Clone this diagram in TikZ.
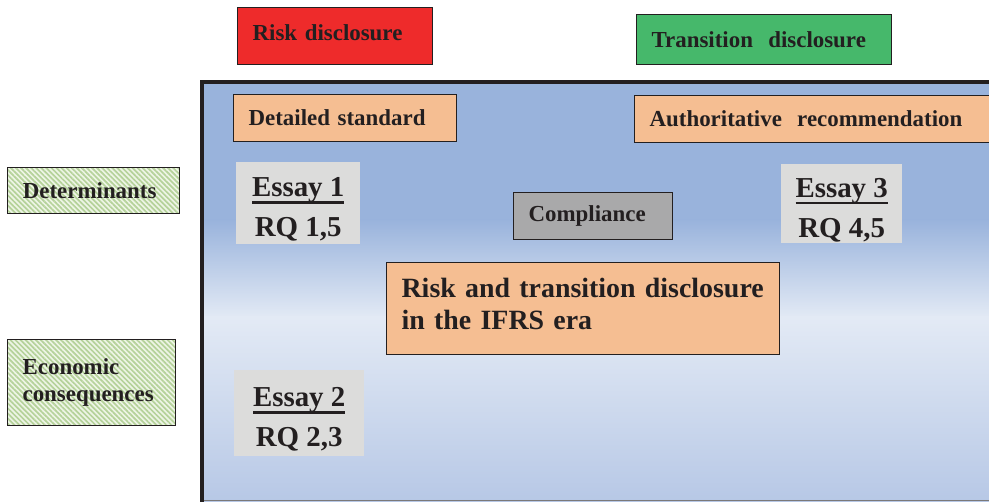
\documentclass[tikz,border=0pt]{standalone}
\usepackage{fontspec}
\setmainfont{Liberation Serif}
\usetikzlibrary{patterns.meta}
\definecolor{mRed}{HTML}{EE2B2B}
\definecolor{mGreen}{HTML}{46B86B}
\definecolor{mOrange}{HTML}{F5BE92}
\definecolor{mGray}{HTML}{A9A9AA}
\definecolor{mEssay}{HTML}{DCDCDB}
\definecolor{mBlue}{HTML}{99B3DC}
\definecolor{mPale}{HTML}{E3EAF5}
\definecolor{mBlueLow}{HTML}{B7C8E6}
\definecolor{mHatchBg}{HTML}{EEF5E6}
\definecolor{mHatch}{HTML}{B5D29A}
\definecolor{mLine}{HTML}{231F20}

% heading of an essay box, with a heavy underline
\newcommand{\essayhead}[1]{\rule{0pt}{32pt}\sbox0{#1}\rlap{\usebox0}\rule[-7pt]{\wd0}{2.8pt}}

\begin{document}
\begin{tikzpicture}[x=1bp, y=-1bp,
  every node/.style={font=\fontsize{23}{27}\selectfont\bfseries, text=mLine},
  lbl/.style={draw=mLine, line width=1.2bp, anchor=north west,
              inner xsep=15bp, inner ysep=0pt, align=left},
  hatch/.style={lbl, preaction={fill=mHatchBg},
                pattern={Lines[angle=-45, distance=3.6pt, line width=1.7pt]},
                pattern color=mHatch},
  essay/.style={fill=mEssay, anchor=north west, align=center, inner sep=0pt,
                font=\fontsize{29}{40}\selectfont\bfseries},
]
  \useasboundingbox (0,0) rectangle (989,502);
  \clip (0,0) rectangle (989,502);

  % Panel background
  \fill[mBlue] (200,81) rectangle (1000,221);
  \shade[top color=mBlue, bottom color=mPale] (200,220) rectangle (1000,318);
  \shade[top color=mPale, bottom color=mBlueLow] (200,317) rectangle (1000,501);
  \draw[mLine!60, line width=1.5bp] (200,500.5) -- (1000,500.5);
  \draw[mLine, line width=4bp] (201.5,503) -- (201.5,82) -- (1000,82);

  % Disclosure types
  \node[lbl, fill=mRed, text width=165bp, minimum height=57bp] (riskd) at (237,7) {Risk disclosure\rule[-8pt]{0pt}{0pt}};
  \node[lbl, fill=mGreen, text width=225bp, minimum height=50bp] (transd) at (636,14) {Transition\ \ disclosure};

  % Standards
  \node[lbl, fill=mOrange, text width=193bp, minimum height=47bp] (detail) at (233,94) {Detailed standard};
  \node[lbl, fill=mOrange, text width=350bp, minimum height=47bp] (recomm) at (634,95) {Authoritative\ \ recommendation};

  % Left side
  \node[hatch, text width=142bp, minimum height=46bp] (determ) at (7,167) {Determinants};
  \node[hatch, text width=138bp, minimum height=86bp] (econ) at (7,339) {Economic\\consequences};

  % Essays
  \node[essay, minimum width=124bp, minimum height=82bp] (essay1) at (236,162) {\essayhead{Essay 1}\\RQ 1,5};
  \node[essay, minimum width=130bp, minimum height=86bp] (essay2) at (234,370) {\essayhead{Essay 2}\\RQ 2,3};
  \node[essay, minimum width=121bp, minimum height=79bp] (essay3) at (781,164) {\essayhead{Essay 3}\\RQ 4,5};

  % Centre
  \node[lbl, fill=mGray, text width=129bp, minimum height=47bp] (compl) at (513,192) {Compliance};
  \node[lbl, fill=mOrange, text width=363bp, minimum height=92bp,
        font=\fontsize{28}{32}\selectfont\bfseries] (ifrs) at (386,262)
    {Risk and transition disclosure\\in the IFRS era\rule[-10pt]{0pt}{0pt}};
\end{tikzpicture}
\end{document}
